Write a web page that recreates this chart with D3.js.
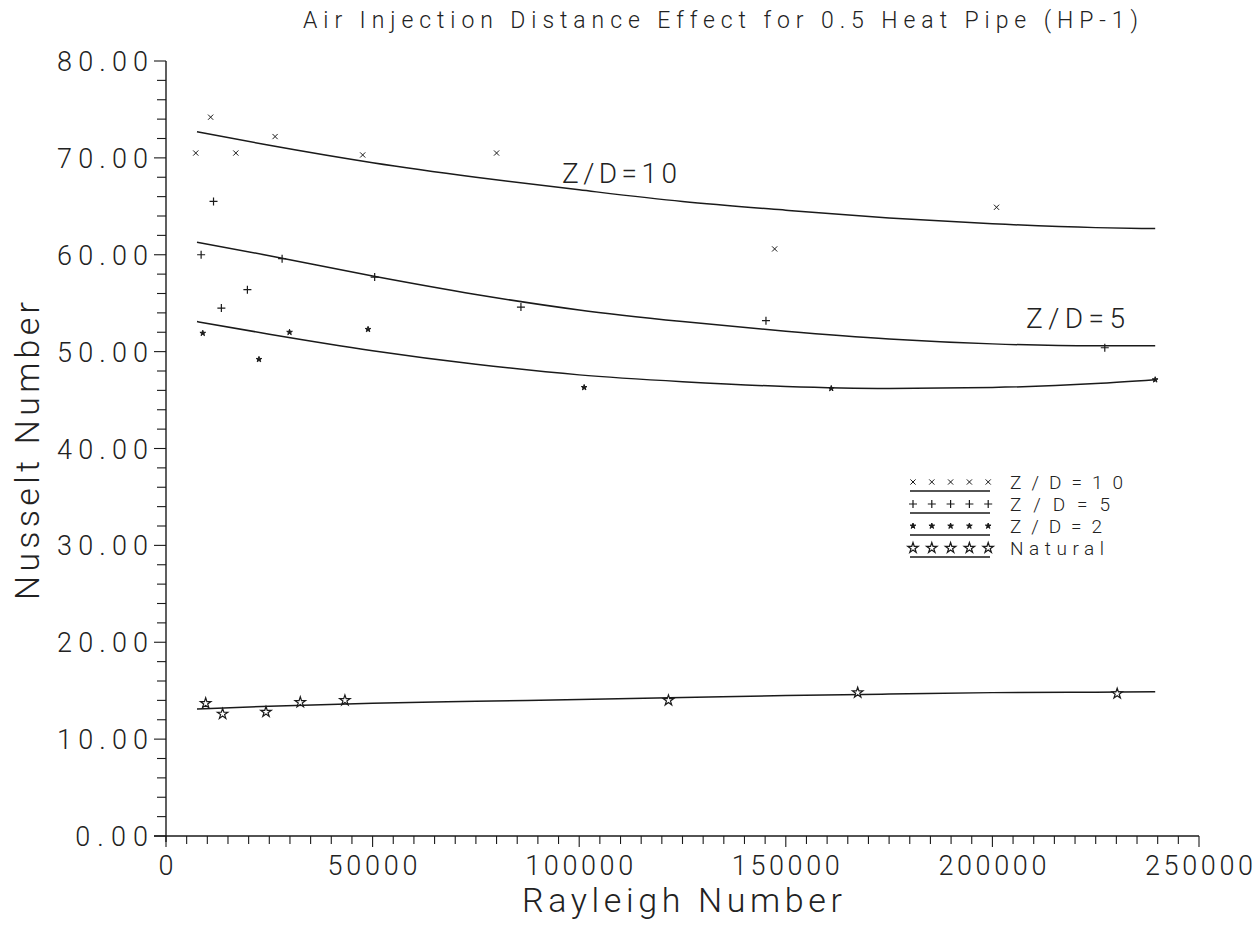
<!DOCTYPE html>
<html><head><meta charset="utf-8">
<script src="https://cdn.jsdelivr.net/npm/d3@7"></script>
<style>
body{margin:0;background:#fff}
text{font-family:Roboto,'DejaVu Sans',sans-serif;font-weight:300;fill:#222}
</style>
</head><body>
<svg id="c" width="1257" height="927"></svg>
<script>
// ---- data ----
const titleText = "Air Injection Distance Effect for 0.5 Heat Pipe (HP-1)";
const xLabel = "Rayleigh Number";
const yLabel = "Nusselt Number";
const xTicks = [0, 50000, 100000, 150000, 200000, 250000];
const yTicks = [0, 10, 20, 30, 40, 50, 60, 70, 80];
const seriesNames = ["Z/D=10", "Z/D=5", "Z/D=2", "Natural"];

// measured points
const zd10X = [7200, 10800, 16900, 26400, 47600, 80000, 147300, 201000];
const zd10Y = [70.5, 74.2, 70.5, 72.2, 70.3, 70.5, 60.6, 64.9];
const zd5X  = [8500, 11500, 13400, 19700, 28100, 50500, 85900, 145200, 227200];
const zd5Y  = [60.0, 65.5, 54.5, 56.4, 59.6, 57.7, 54.6, 53.2, 50.4];
const zd2X  = [8900, 22500, 29900, 48900, 101200, 161000, 239400];
const zd2Y  = [51.9, 49.2, 52.0, 52.3, 46.3, 46.2, 47.1];
const natX  = [9600, 13700, 24200, 32500, 43300, 121600, 167400, 230200];
const natY  = [13.7, 12.6, 12.8, 13.8, 14.0, 14.0, 14.8, 14.7];

// fitted curves
const fitX   = [7500, 25000, 50000, 75000, 100000, 125000, 150000, 175000, 200000, 225000, 239400];
const fit10Y = [72.7, 71.3, 69.5, 68.0, 66.7, 65.5, 64.6, 63.8, 63.2, 62.8, 62.7];
const fit5Y  = [61.3, 59.9, 57.8, 55.9, 54.3, 53.1, 52.1, 51.3, 50.8, 50.6, 50.6];
const fit2Y  = [53.1, 51.8, 50.1, 48.7, 47.6, 46.9, 46.4, 46.2, 46.3, 46.7, 47.1];
const fitNY  = [13.1, 13.4, 13.7, 13.9, 14.1, 14.3, 14.5, 14.65, 14.8, 14.85, 14.9];

// ---- drawing ----
const svg = d3.select("#c");
const x = d3.scaleLinear().domain([0, 250000]).range([166, 1199]);
const y = d3.scaleLinear().domain([0, 80]).range([836, 61]);
const ink = "#1a1a1a";

// title
svg.append("text").attr("x", 303).attr("y", 28).attr("font-size", 23)
  .attr("textLength", 835).attr("lengthAdjust", "spacing").text(titleText);

// axes
const xMinor = d3.range(0, 250001, 5000);
const yMinor = d3.range(0, 80.001, 2);
const ax = svg.append("g").attr("stroke", ink).attr("stroke-width", 1.4).attr("fill", "none");
ax.append("line").attr("x1", x(0) - 12).attr("x2", x(250000)).attr("y1", y(0)).attr("y2", y(0));
ax.append("line").attr("x1", x(0)).attr("x2", x(0)).attr("y1", y(0) + 6).attr("y2", y(80));
xMinor.forEach(v => {
  const major = v % 50000 === 0;
  ax.append("line").attr("x1", x(v)).attr("x2", x(v)).attr("y1", y(0)).attr("y2", y(0) + (major ? 11 : 8))
    .attr("stroke-width", 1.1);
});
yMinor.forEach(v => {
  const major = Math.abs(v % 10) < 1e-6;
  ax.append("line").attr("y1", y(v)).attr("y2", y(v)).attr("x1", x(0)).attr("x2", x(0) - (major ? 12 : 9))
    .attr("stroke-width", 1.1);
});

// tick labels
svg.append("g").selectAll("text").data(xTicks).join("text")
  .attr("x", d => x(d)).attr("y", 875).attr("font-size", 27).attr("text-anchor", "middle")
  .attr("textLength", d => String(d).length * 18).attr("lengthAdjust", "spacing")
  .text(d => String(d));
svg.append("g").selectAll("text").data(yTicks).join("text")
  .attr("x", 148).attr("y", d => y(d) + 10).attr("font-size", 27).attr("text-anchor", "end")
  .attr("textLength", d => d.toFixed(2).length * 18.2).attr("lengthAdjust", "spacing")
  .text(d => d.toFixed(2));

// axis titles
svg.append("text").attr("x", 522).attr("y", 912).attr("font-size", 34)
  .attr("textLength", 320).attr("lengthAdjust", "spacing").text(xLabel);
svg.append("text").attr("transform", "translate(39,600) rotate(-90)").attr("font-size", 34)
  .attr("textLength", 298).attr("lengthAdjust", "spacing").text(yLabel);

// fitted curves
const line = d3.line().x(d => x(d[0])).y(d => y(d[1])).curve(d3.curveMonotoneX);
[fit10Y, fit5Y, fit2Y, fitNY].forEach(ys => {
  svg.append("path").attr("d", line(fitX.map((v, i) => [v, ys[i]])))
    .attr("fill", "none").attr("stroke", ink).attr("stroke-width", 1.5);
});

// markers
function mark(kind, cx, cy) {
  if (kind === 0) {
    const r = 2.6;
    return svg.append("path").attr("d", `M${cx-r},${cy-r}L${cx+r},${cy+r}M${cx-r},${cy+r}L${cx+r},${cy-r}`)
      .attr("stroke", ink).attr("stroke-width", 1).attr("fill", "none");
  } else if (kind === 1) {
    const r = 4;
    return svg.append("path").attr("d", `M${cx-r},${cy}L${cx+r},${cy}M${cx},${cy-r}L${cx},${cy+r}`)
      .attr("stroke", ink).attr("stroke-width", 1.2).attr("fill", "none");
  } else if (kind === 2) {
    return svg.append("path").attr("d", d3.symbol(d3.symbolStar, 10)()).attr("transform", `translate(${cx},${cy})`)
      .attr("fill", ink).attr("stroke", ink).attr("stroke-width", 1);
  } else {
    return svg.append("path").attr("d", d3.symbol(d3.symbolStar, 34)()).attr("transform", `translate(${cx},${cy})`)
      .attr("fill", "#fff").attr("stroke", ink).attr("stroke-width", 1.2);
  }
}
[[zd10X, zd10Y], [zd5X, zd5Y], [zd2X, zd2Y], [natX, natY]].forEach(([xs, ys], k) => {
  xs.forEach((v, i) => mark(k, x(v), y(ys[i])));
});

// curve annotations
svg.append("text").attr("x", 562).attr("y", 183).attr("font-size", 28)
  .attr("textLength", 115).attr("lengthAdjust", "spacing").text(seriesNames[0]);
svg.append("text").attr("x", 1026).attr("y", 328).attr("font-size", 28)
  .attr("textLength", 99).attr("lengthAdjust", "spacing").text(seriesNames[1]);

// legend
const legW = [113, 100, 92, 94];
seriesNames.forEach((name, k) => {
  const my = 482 + k * 22;
  for (let j = 0; j < 5; j++) mark(k, 913 + j * 18.8, my);
  svg.append("line").attr("x1", 910).attr("x2", 990).attr("y1", my + 9).attr("y2", my + 9)
    .attr("stroke", ink).attr("stroke-width", 1.3);
  svg.append("text").attr("x", 1010).attr("y", my + 7).attr("font-size", 19)
    .attr("textLength", legW[k]).attr("lengthAdjust", "spacing").text(name);
});
</script>
</body></html>
